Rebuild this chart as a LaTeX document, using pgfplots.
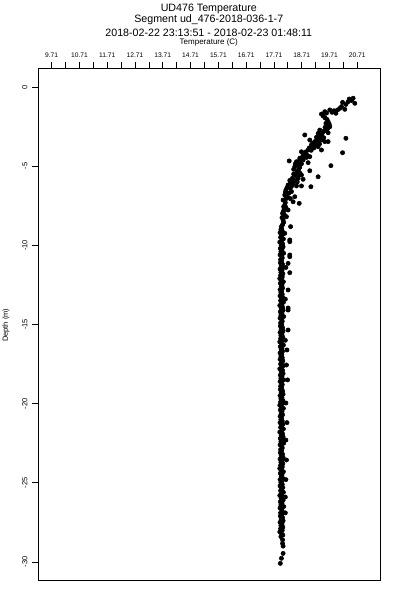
\documentclass[border=0pt]{standalone}
\usepackage{pgfplots}
\pgfplotsset{compat=1.18}
\usepackage{fontspec}
\setmainfont{Liberation Sans}
\begin{document}
\begin{tikzpicture}
\useasboundingbox (0,0) rectangle (300pt,450pt);
\begin{axis}[
  at={(28.7pt,15pt)}, anchor=south west,
  width=256.3pt, height=384pt, scale only axis,
  xmin=9.228, xmax=21.527, ymin=-31.14, ymax=1.2,
  xtick pos=upper, xticklabel pos=upper, ytick pos=left,
  tick align=outside, major tick length=4.5pt,
  xtick={9.71,10.21,10.71,11.21,11.71,12.21,12.71,13.21,13.71,14.21,14.71,15.21,15.71,16.21,16.71,17.21,17.71,18.21,18.71,19.21,19.71,20.21,20.71},
  xticklabels={9.71,,10.71,,11.71,,12.71,,13.71,,14.71,,15.71,,16.71,,17.71,,18.71,,19.71,,20.71},
  ytick={-30,-25,-20,-15,-10,-5,0},
  yticklabels={-30,-25,-20,-15,-10,-5,0},
  /pgf/number format/assume math mode=true,
  ticklabel style={font=\fontsize{5}{6}\selectfont},
  yticklabel style={rotate=90, anchor=south, font=\fontsize{5.6}{6.5}\selectfont},
  axis line style={line width=0.6pt}, every tick/.style={line width=0.6pt, black},
  clip=false,
]
\addplot[only marks, mark=*, mark size=1.6pt, black] coordinates {
(20.56,-0.71)(20.62,-1.03)(20.42,-0.76)(20.38,-0.93)(20.18,-0.97)(20.14,-1.24)(20.26,-1.41)(20.08,-1.35)(19.94,-1.66)(19.87,-1.50)
(19.72,-1.45)(19.54,-1.56)(19.42,-1.71)(19.48,-1.83)(19.66,-2.19)(19.72,-2.51)(19.60,-2.72)(19.66,-2.89)(19.36,-2.72)(19.30,-2.93)
(19.42,-3.03)(19.24,-3.18)(20.30,-3.24)(18.82,-3.03)(19.00,-3.35)(19.18,-3.45)(19.54,-3.45)(19.66,-3.45)(19.06,-3.66)(19.30,-3.77)
(19.42,-3.98)(20.18,-4.15)(18.94,-3.98)(18.70,-4.09)(18.82,-4.23)(19.00,-4.40)(18.64,-4.50)(18.26,-4.67)(18.52,-4.72)(18.76,-4.61)
(18.94,-4.78)(19.76,-4.97)(18.46,-5.03)(18.64,-5.07)(19.00,-5.29)(18.52,-5.45)(18.70,-5.56)(19.30,-5.67)(18.58,-5.77)(18.76,-5.83)
(18.40,-6.08)(18.22,-6.19)(18.52,-6.25)(19.04,-6.30)(18.70,-6.25)(18.14,-6.51)(18.34,-6.61)(18.46,-6.93)(18.10,-6.82)(18.40,-7.25)
(18.62,-7.35)(18.04,-7.14)(18.06,-7.56)(18.22,-7.77)(18.02,-7.98)(18.16,-8.19)(18.04,-8.40)(18.31,-8.82)(17.98,-8.82)
(20.50,-0.85)(20.30,-1.10)(20.00,-1.45)(19.80,-1.60)(19.60,-1.65)(19.55,-1.95)(19.62,-2.05)(19.70,-2.35)(19.65,-2.60)(19.50,-2.80)
(19.45,-2.90)(19.35,-3.10)(19.50,-3.20)(19.40,-3.35)(19.25,-3.50)(19.10,-3.55)(19.20,-3.70)(19.35,-3.60)(19.15,-3.85)(19.05,-4.00)
(18.85,-4.10)(18.90,-4.30)(18.75,-4.35)(18.60,-4.70)(18.55,-4.90)(18.70,-4.85)(18.60,-5.20)(18.55,-5.35)(18.65,-5.45)(18.50,-5.60)
(18.45,-5.90)(18.55,-6.00)(18.35,-6.25)(18.30,-6.40)(18.25,-6.70)(18.20,-6.95)(18.15,-7.05)(18.12,-7.30)(18.10,-7.45)(18.08,-7.70)
(18.05,-7.85)(18.08,-8.05)(18.00,-8.25)(18.06,-8.55)(18.02,-8.70)(17.98,-8.95)(18.10,-9.24)(18.28,-9.66)(18.28,-10.61)(18.22,-11.14)
(19.58,-2.30)(19.68,-2.45)(19.55,-2.55)(19.40,-3.25)(19.28,-3.35)(19.12,-3.75)(18.98,-3.85)(18.88,-4.45)(18.72,-4.55)(18.48,-4.85)
(18.42,-5.20)(18.58,-5.60)(18.42,-5.50)(18.38,-5.75)(18.30,-6.00)(18.28,-5.90)(18.18,-6.35)(18.12,-6.65)(18.30,-7.05)(18.14,-7.60)
(18.28,-11.73)(18.28,-9.77)(18.28,-10.72)(18.22,-12.82)(18.22,-13.96)(18.22,-14.09)(18.22,-15.35)(18.18,-16.61)(18.16,-17.56)(18.20,-18.50)
(18.14,-19.96)(18.18,-21.20)(18.14,-22.30)(18.16,-23.56)(18.14,-24.80)(18.12,-25.90)(18.12,-26.90)(18.14,-11.40)(18.12,-13.40)(18.12,-16.00)
(17.96,-9.0)(18.01,-9.1)(17.93,-9.2)(18.03,-9.3)(17.98,-9.4)(17.95,-9.5)(18.05,-9.6)(17.99,-9.7)(17.92,-9.8)(18.02,-9.9)
(17.97,-10.0)(18.04,-10.1)(17.94,-10.2)(18.00,-10.3)(17.96,-10.4)(18.06,-10.5)(17.93,-10.6)(17.99,-10.7)(18.01,-10.8)(17.95,-10.9)
(17.99,-11.0)(17.94,-11.1)(18.02,-11.2)(17.97,-11.3)(18.04,-11.4)(17.93,-11.5)(18.00,-11.6)(17.96,-11.7)(18.03,-11.8)(17.95,-11.9)
(18.01,-12.0)(17.92,-12.1)(17.98,-12.2)(18.05,-12.3)(17.94,-12.4)(18.00,-12.5)(17.97,-12.6)(18.02,-12.7)(17.93,-12.8)(17.99,-12.9)
(17.96,-13.0)(18.01,-13.1)(17.93,-13.2)(18.03,-13.3)(17.98,-13.4)(17.95,-13.5)(18.05,-13.6)(17.99,-13.7)(17.92,-13.8)(18.02,-13.9)
(17.97,-14.0)(18.04,-14.1)(17.94,-14.2)(18.00,-14.3)(17.96,-14.4)(18.06,-14.5)(17.93,-14.6)(17.99,-14.7)(18.01,-14.8)(17.95,-14.9)
(17.99,-15.0)(17.94,-15.1)(18.02,-15.2)(17.97,-15.3)(18.04,-15.4)(17.93,-15.5)(18.00,-15.6)(17.96,-15.7)(18.03,-15.8)(17.95,-15.9)
(18.01,-16.0)(17.92,-16.1)(17.98,-16.2)(18.05,-16.3)(17.94,-16.4)(18.00,-16.5)(17.97,-16.6)(18.02,-16.7)(17.93,-16.8)(17.99,-16.9)
(17.96,-17.0)(18.01,-17.1)(17.93,-17.2)(18.03,-17.3)(17.98,-17.4)(17.95,-17.5)(18.05,-17.6)(17.99,-17.7)(17.92,-17.8)(18.02,-17.9)
(17.97,-18.0)(18.04,-18.1)(17.94,-18.2)(18.00,-18.3)(17.96,-18.4)(18.06,-18.5)(17.93,-18.6)(17.99,-18.7)(18.01,-18.8)(17.95,-18.9)
(17.99,-19.0)(17.94,-19.1)(18.02,-19.2)(17.97,-19.3)(18.04,-19.4)(17.93,-19.5)(18.00,-19.6)(17.96,-19.7)(18.03,-19.8)(17.95,-19.9)
(18.01,-20.0)(17.92,-20.1)(17.98,-20.2)(18.05,-20.3)(17.94,-20.4)(18.00,-20.5)(17.97,-20.6)(18.02,-20.7)(17.93,-20.8)(17.99,-20.9)
(17.96,-21.0)(18.01,-21.1)(17.93,-21.2)(18.03,-21.3)(17.98,-21.4)(17.95,-21.5)(18.05,-21.6)(17.99,-21.7)(17.92,-21.8)(18.02,-21.9)
(17.97,-22.0)(18.04,-22.1)(17.94,-22.2)(18.00,-22.3)(17.96,-22.4)(18.06,-22.5)(17.93,-22.6)(17.99,-22.7)(18.01,-22.8)(17.95,-22.9)
(17.99,-23.0)(17.94,-23.1)(18.02,-23.2)(17.97,-23.3)(18.04,-23.4)(17.93,-23.5)(18.00,-23.6)(17.96,-23.7)(18.03,-23.8)(17.95,-23.9)
(18.01,-24.0)(17.92,-24.1)(17.98,-24.2)(18.05,-24.3)(17.94,-24.4)(18.00,-24.5)(17.97,-24.6)(18.02,-24.7)(17.93,-24.8)(17.99,-24.9)
(17.96,-25.0)(18.01,-25.1)(17.93,-25.2)(18.03,-25.3)(17.98,-25.4)(17.95,-25.5)(18.05,-25.6)(17.99,-25.7)(17.92,-25.8)(18.02,-25.9)
(17.97,-26.0)(18.04,-26.1)(17.94,-26.2)(18.00,-26.3)(17.96,-26.4)(18.06,-26.5)(17.93,-26.6)(17.99,-26.7)(18.01,-26.8)(17.95,-26.9)
(17.99,-27.0)(17.94,-27.1)(18.02,-27.2)(17.97,-27.3)(18.04,-27.4)(17.93,-27.5)(18.00,-27.6)(17.96,-27.7)(18.03,-27.8)(17.95,-27.9)
(18.01,-28.0)(17.92,-28.1)(17.98,-28.2)(18.03,-28.3)(17.96,-28.4)
(18.02,-28.60)(18.02,-28.83)(18.04,-29.0)(18.04,-29.46)(17.98,-29.77)(17.94,-30.09)
};
\end{axis}
\node[font=\fontsize{8}{9.6}\selectfont] at (156.6pt,443.5pt) {UD476 Temperature};
\node[font=\fontsize{8}{9.6}\selectfont] at (156.6pt,435.5pt) {Segment ud\_476-2018-036-1-7};
\node[font=\fontsize{8}{9.6}\selectfont] at (156.6pt,425.5pt) {2018-02-22 23:13:51 - 2018-02-23 01:48:11};
\node[font=\fontsize{6}{7}\selectfont] at (156.6pt,418.5pt) {Temperature (C)};
\node[font=\fontsize{5.6}{6.5}\selectfont, rotate=90] at (4.5pt,206pt) {Depth (m)};
\end{tikzpicture}
\end{document}
